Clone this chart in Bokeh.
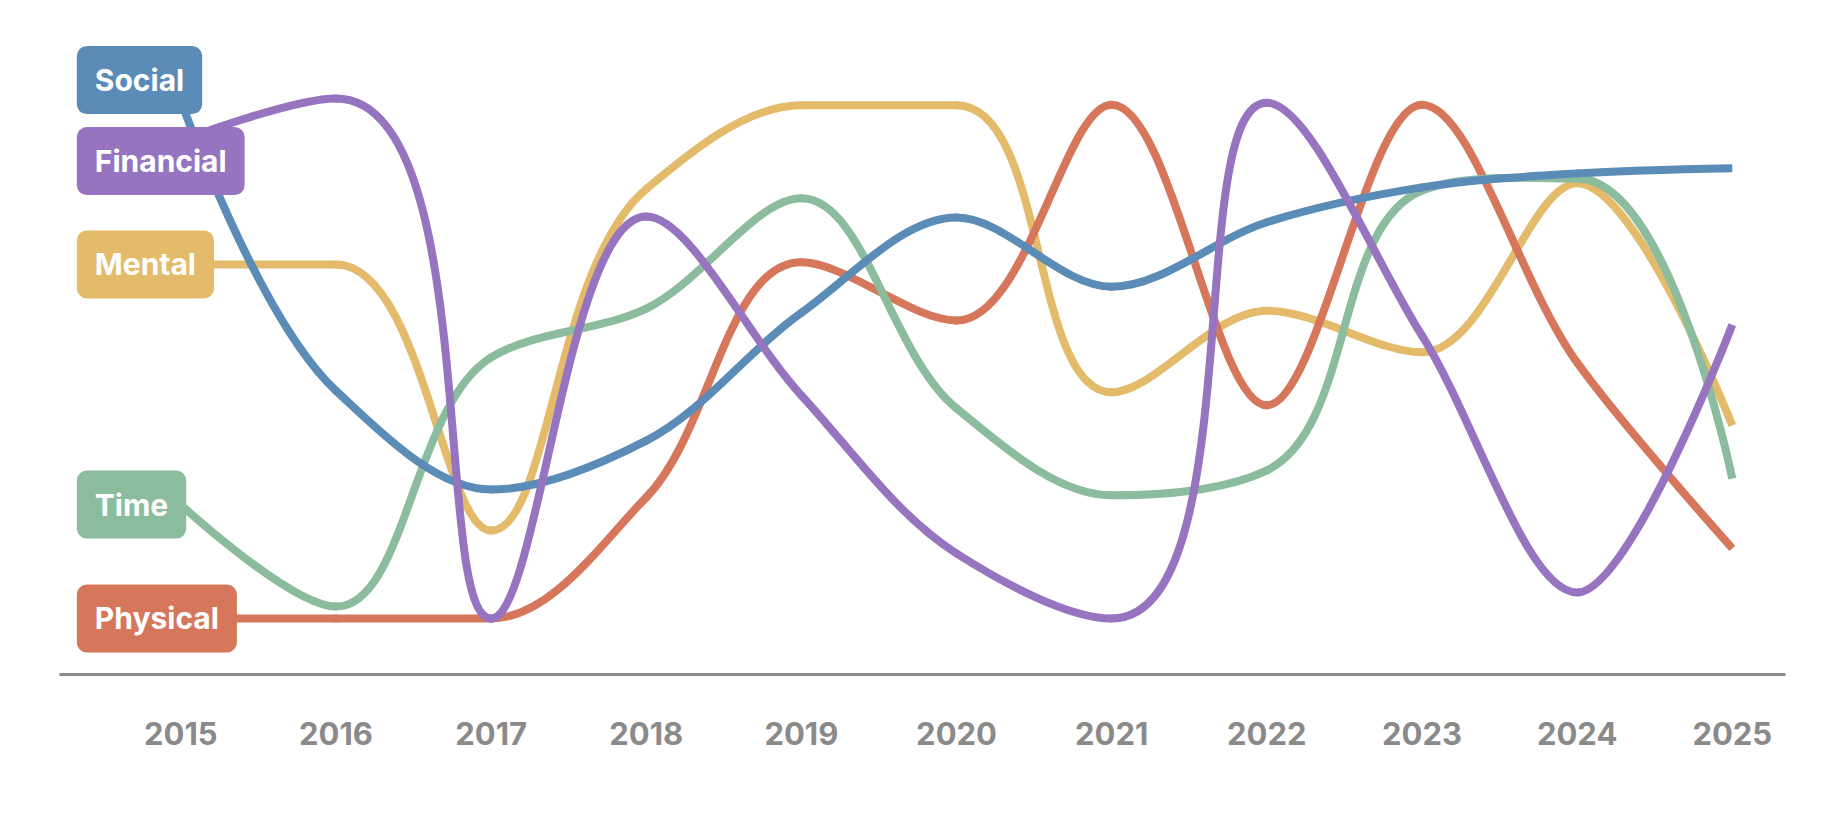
import math
from bokeh.plotting import figure
from bokeh.models import Range1d, FixedTicker, Label
from bokeh.embed import file_html
from bokeh.resources import INLINE

# ---------------- data ----------------
years = [2015, 2016, 2017, 2018, 2019, 2020, 2021, 2022, 2023, 2024, 2025]
tick_labels = ["2015", "2016", "2017", "2018", "2019", "2020",
               "2021", "2022", "2023", "2024", "2025"]

social    = [99.6, 43.8, 24.8, 34.2, 58.8, 77.1, 63.8, 76.2, 82.9, 85.6, 86.6]
financial = [91.9, 100.0, 0.0, 77.3, 42.9, 12.5, 0.0, 99.2, 54.4, 5.0, 56.5]
mental    = [68.1, 68.1, 16.9, 82.6, 98.7, 98.7, 43.5, 59.2, 51.2, 83.7, 37.1]
time_     = [21.9, 2.3, 50.2, 59.6, 80.8, 40.4, 23.7, 28.5, 82.3, 84.6, 26.9]
physical  = [0.0, 0.0, 0.0, 23.3, 68.5, 57.3, 98.8, 41.0, 98.8, 49.2, 13.5]

names = ["Social", "Financial", "Mental", "Time", "Physical"]
values = {"Social": social, "Financial": financial, "Mental": mental,
          "Time": time_, "Physical": physical}
colors = {"Social": "#5a8cb7", "Financial": "#9674c0", "Mental": "#e3bb6b",
          "Time": "#8bbc9d", "Physical": "#d6765b"}
draw_order = ["Mental", "Physical", "Time", "Social", "Financial"]

# ---------------- layout ----------------
W, H = 1831, 806
B_LEFT, B_RIGHT, B_TOP, B_BOTTOM = 59, 46, 20, 132
Y0, Y1 = -10.77, 115.0
X0, X1 = 2014.218, 2025.343
FRAME_W = W - B_LEFT - B_RIGHT
FRAME_H = H - B_TOP - B_BOTTOM
PX_X = FRAME_W / (X1 - X0)
PX_Y = FRAME_H / (Y1 - Y0)

p = figure(width=W, height=H, output_backend="svg", toolbar_location=None,
           x_range=Range1d(X0, X1), y_range=Range1d(Y0, Y1),
           min_border_left=B_LEFT, min_border_right=B_RIGHT,
           min_border_top=B_TOP, min_border_bottom=B_BOTTOM)
p.outline_line_color = None
p.background_fill_color = "white"
p.border_fill_color = "white"
p.grid.visible = False
p.yaxis.visible = False

ax = p.xaxis[0]
ax.ticker = FixedTicker(ticks=years)
ax.major_label_overrides = {y: t for y, t in zip(years, tick_labels)}
ax.axis_line_color = "#8a8a8a"
ax.axis_line_width = 3
ax.major_tick_line_color = None
ax.minor_tick_line_color = None
ax.major_tick_out = 0
ax.major_tick_in = 0
ax.major_label_standoff = 47
ax.major_label_text_color = "#8a8a8a"
ax.major_label_text_font = "Inter"
ax.major_label_text_font_style = "bold"
ax.major_label_text_font_size = "31px"


# ------- chordal Catmull-Rom curve, flattened at extrema (screen space) -------
def smooth_beziers(xs, ys, alpha=1.0):
    P = [((x - X0) * PX_X, (y - Y0) * PX_Y) for x, y in zip(xs, ys)]
    n = len(P)

    def dist(a, b):
        return math.hypot(b[0] - a[0], b[1] - a[1])

    flat = [False] * n
    for i in range(1, n - 1):
        a, b, c = ys[i - 1], ys[i], ys[i + 1]
        if (b >= a and b >= c) or (b <= a and b <= c):
            flat[i] = True

    def back(pt):
        return (pt[0] / PX_X + X0, pt[1] / PX_Y + Y0)

    seg = dict(x0=[], y0=[], x1=[], y1=[], cx0=[], cy0=[], cx1=[], cy1=[])
    for i in range(n - 1):
        p1, p2 = P[i], P[i + 1]
        c1, c2 = p1, p2
        l12 = dist(p1, p2)
        l12a, l12_2a = l12 ** alpha, l12 ** (2 * alpha)
        if i > 0:
            p0 = P[i - 1]
            l01 = dist(p0, p1)
            l01a, l01_2a = l01 ** alpha, l01 ** (2 * alpha)
            a = 2 * l01_2a + 3 * l01a * l12a + l12_2a
            m = 3 * l01a * (l01a + l12a)
            c1 = ((p1[0] * a - p0[0] * l12_2a + p2[0] * l01_2a) / m,
                  (p1[1] * a - p0[1] * l12_2a + p2[1] * l01_2a) / m)
            if flat[i]:
                c1 = (c1[0], p1[1])
        if i + 2 < n:
            p3 = P[i + 2]
            l23 = dist(p2, p3)
            l23a, l23_2a = l23 ** alpha, l23 ** (2 * alpha)
            b = 2 * l23_2a + 3 * l23a * l12a + l12_2a
            m = 3 * l23a * (l23a + l12a)
            c2 = ((p2[0] * b + p1[0] * l23_2a - p3[0] * l12_2a) / m,
                  (p2[1] * b + p1[1] * l23_2a - p3[1] * l12_2a) / m)
            if flat[i + 1]:
                c2 = (c2[0], p2[1])

        q1, q2 = back(c1), back(c2)
        seg["x0"].append(xs[i]); seg["y0"].append(ys[i])
        seg["x1"].append(xs[i + 1]); seg["y1"].append(ys[i + 1])
        seg["cx0"].append(q1[0]); seg["cy0"].append(q1[1])
        seg["cx1"].append(q2[0]); seg["cy1"].append(q2[1])
    return seg


LW = 8
for name in draw_order:
    s = smooth_beziers(years, values[name])
    inner = {k: v[:-1] for k, v in s.items()}
    last = {k: v[-1:] for k, v in s.items()}
    for src, cap in ((inner, "round"), (last, "butt")):
        p.bezier(source=src, x0="x0", y0="y0", x1="x1", y1="y1",
                 cx0="cx0", cy0="cy0", cx1="cx1", cy1="cy1",
                 line_color=colors[name], line_width=LW, line_cap=cap)

# ---------------- start labels with collision avoidance ----------------
gap = 81.0 / PX_Y

starts = sorted(((values[n][0], n) for n in names), reverse=True)
clusters = [[[n], [v]] for v, n in starts]


def layout_cluster(c):
    m = sum(c[1]) / len(c[1])
    k = len(c[0])
    top = m + gap * (k - 1) / 2.0
    return [top - gap * i for i in range(k)]


changed = True
while changed:
    changed = False
    for i in range(len(clusters) - 1):
        a, b = clusters[i], clusters[i + 1]
        if layout_cluster(a)[-1] - layout_cluster(b)[0] < gap:
            clusters[i] = [a[0] + b[0], a[1] + b[1]]
            del clusters[i + 1]
            changed = True
            break

label_y = {}
for c in clusters:
    for n, yv in zip(c[0], layout_cluster(c)):
        label_y[n] = yv

for n in names:
    lab = Label(x=years[0], y=label_y[n], x_offset=-104, text=n,
                text_align="left", text_baseline="middle",
                text_font="Inter", text_font_style="bold",
                text_font_size="30px", text_color="white",
                background_fill_color=colors[n], background_fill_alpha=1.0,
                border_line_color=None, border_radius=10, padding=(18, 16))
    p.add_layout(lab)

open("out.html", "w").write(file_html(p, INLINE))
